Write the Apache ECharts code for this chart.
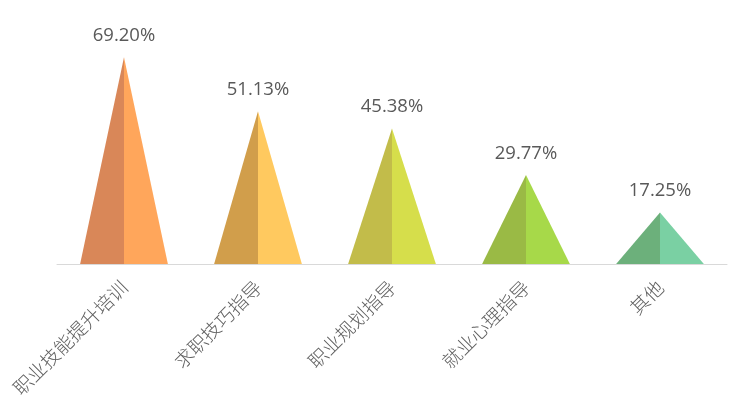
<!DOCTYPE html>
<html><head><meta charset="utf-8">
<script src="https://cdn.jsdelivr.net/npm/echarts@6/dist/echarts.min.js"></script>
<style>html,body{margin:0;padding:0;background:#fff}#c{width:751px;height:412px}</style>
</head><body><div id="c"></div>
<script>
var categories = ['职业技能提升培训', '求职技巧指导', '职业规划指导', '就业心理指导', '其他'];
var values = [69.20, 51.13, 45.38, 29.77, 17.25];
var darkColors = ['#D98758', '#D19E4B', '#C2BC4A', '#9ABA45', '#6CB07B'];
var lightColors = ['#FFA65B', '#FFC95F', '#D6DE4B', '#A7D949', '#7AD0A3'];

var chart = echarts.init(document.getElementById('c'));
chart.setOption({
  animation: false,
  grid: { left: 57, right: 24, top: 25, bottom: 148 },
  xAxis: {
    type: 'category', data: categories,
    axisLine: { lineStyle: { color: '#D9D9D9', width: 1 } },
    axisTick: { show: false },
    axisLabel: { rotate: 45, margin: 20, color: '#5f5f5f', fontSize: 19, fontWeight: 300,
      fontFamily: '"Noto Sans CJK SC", sans-serif', interval: 0 }
  },
  yAxis: { type: 'value', min: 0, max: 80, show: false, splitLine: { show: false } },
  series: [{
    type: 'custom',
    data: values,
    renderItem: function (params, api) {
      var i = params.dataIndex;
      var v = api.value(0);
      var top = api.coord([i, v]);
      var base = api.coord([i, 0]);
      var bw = api.size([1, 0])[0] * 0.655;
      var cx = base[0];
      return {
        type: 'group',
        children: [
          { type: 'polygon', shape: { points: [[cx, top[1]], [cx - bw / 2, base[1]], [cx, base[1]]] },
            style: { fill: darkColors[i] } },
          { type: 'polygon', shape: { points: [[cx, top[1]], [cx, base[1]], [cx + bw / 2, base[1]]] },
            style: { fill: lightColors[i] } },
          { type: 'text', x: cx, y: top[1] - 12,
            style: { text: v.toFixed(2) + '%', fill: '#595959', fontSize: 18.5,
              fontFamily: '"Open Sans", "Noto Sans", sans-serif', align: 'center', verticalAlign: 'bottom' } }
        ]
      };
    },
    encode: { x: -1, y: 0 }
  }]
});
</script></body></html>
